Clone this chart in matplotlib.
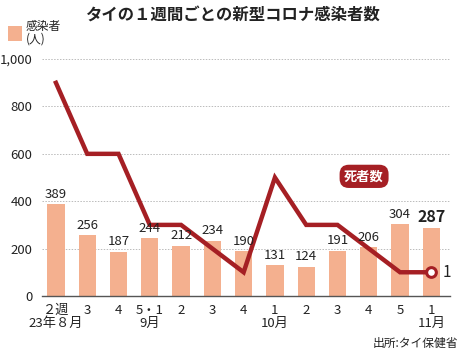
import matplotlib.pyplot as plt
from matplotlib.patches import Rectangle

plt.rcParams["font.family"] = ["Noto Sans CJK JP", "DejaVu Sans"]

# weekly data, Aug 2023 week 2 .. Nov week 1
weeks = ["２週", "3", "4", "5・1", "2", "3", "4", "1", "2", "3", "4", "5", "1"]
months = ["23年８月", "", "", "9月", "", "", "", "10月", "", "", "", "", "11月"]
cases = [389, 256, 187, 244, 212, 234, 190, 131, 124, 191, 206, 304, 287]
deaths = [9, 6, 6, 3, 3, 2, 1, 5, 3, 3, 2, 1, 1]
death_scale = 100  # deaths drawn on the same axis, x100

BAR = "#f4b08f"
LINE = "#a51f24"
TXT = "#222222"

fig = plt.figure(figsize=(4.65, 3.54), dpi=100)
ax = fig.add_axes([0.090, 0.164, 0.878, 0.669])

x = list(range(len(cases)))
ax.bar(x, cases, width=0.55, color=BAR, zorder=2)
ax.plot(x, [d * death_scale for d in deaths], color=LINE, lw=3.2,
        solid_joinstyle="miter", zorder=3, clip_on=False)
ax.plot(x[-1], deaths[-1] * death_scale, "o", ms=7, mfc="white",
        mec=LINE, mew=2.2, zorder=4)

for i, v in enumerate(cases):
    last = i == len(cases) - 1
    ax.text(i, v + 14, str(v), ha="center", va="bottom",
            fontsize=11.5 if last else 9.5,
            fontweight="bold" if last else "normal",
            color=TXT, zorder=5)
ax.text(x[-1] + 0.35, deaths[-1] * death_scale, str(deaths[-1]),
        ha="left", va="center", fontsize=11, color=TXT)

ax.text(9.85, 505, "死者数", ha="center", va="center", fontsize=9.5,
        color="white", fontweight="bold",
        bbox=dict(boxstyle="round,pad=0.35,rounding_size=0.7",
                  fc=LINE, ec="none"))

ax.set_xlim(-0.45, 12.6)
ax.set_ylim(0, 1000)
ax.set_yticks([0, 200, 400, 600, 800, 1000])
ax.set_yticklabels(["0", "200", "400", "600", "800", "1,000"])
ax.yaxis.grid(True, ls=(0, (1.5, 1.5)), color="#bbbbbb", lw=0.7, zorder=0)
ax.set_axisbelow(True)
ax.tick_params(axis="y", length=0, labelsize=9.5, pad=7, colors=TXT)
ax.tick_params(axis="x", length=0, labelsize=9.5, pad=6, colors=TXT)
ax.set_xticks(x)
ax.set_xticklabels([w + "\n" + m if m else w for w, m in zip(weeks, months)],
                   linespacing=1.0)
for lab in ax.get_xticklabels():
    lab.set_verticalalignment("top")
for s in ["top", "right", "left"]:
    ax.spines[s].set_visible(False)
ax.spines["bottom"].set_color("#555555")
ax.spines["bottom"].set_linewidth(1.0)

fig.text(0.5, 0.958, "タイの１週間ごとの新型コロナ感染者数", ha="center",
         va="center", fontsize=11.8, fontweight="bold", color=TXT)
fig.patches.append(Rectangle((8 / 465, 1 - 41 / 354), 14 / 465, 15 / 354,
                             transform=fig.transFigure, fc=BAR, ec="none"))
fig.text(26 / 465, 1 - 33 / 354, "感染者\n(人)", ha="left", va="center",
         fontsize=8.5, color=TXT, linespacing=1.0)
fig.text(0.985, 0.03, "出所:タイ保健省", ha="right", va="center",
         fontsize=8.5, color=TXT)

fig.savefig("out.png", dpi=100)
